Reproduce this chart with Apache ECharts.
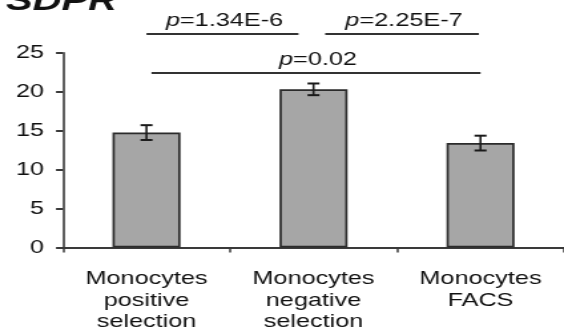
<!DOCTYPE html>
<html>
<head>
<meta charset="utf-8">
<script src="https://cdn.jsdelivr.net/npm/echarts@6/dist/echarts.min.js"></script>
<style>
html,body{margin:0;padding:0;overflow:hidden;background:#fff;width:564px;height:333px;}
#chart{width:424px;height:333px;transform:scaleX(1.330189);transform-origin:0 0;}
</style>
</head>
<body>
<div id="chart"></div>
<script>
// ---- data ----
const categories = ['Monocytes\npositive\nselection', 'Monocytes\nnegative\nselection', 'Monocytes\nFACS'];
const values = [14.75, 20.3, 13.4];
const errors = [0.95, 0.75, 0.95];
const yTicks = [0, 5, 10, 15, 20, 25];
// significance brackets: [from (category position), to (category position), height]
const sigFrom = [0.0, 1.07, 0.03];
const sigTo = [0.91, 1.99, 2.0];
const sigY = [27.4, 27.4, 22.4];
const sigText = ['1.34E-6', '2.25E-7', '0.02'];
const titleText = 'SDPR';

// ---- layout ----
const S = 564 / 424;           // horizontal stretch of the figure
const h = v => v / S;           // target px -> unscaled px
const FONT = "'Liberation Sans', Arial, sans-serif";
const TXT = '#111';
const AX = '#3a3a3a';

const chart = echarts.init(document.getElementById('chart'), null, {renderer: 'canvas'});

const errData = values.map((v, i) => [i, v, errors[i]]);
const sigData = sigFrom.map((f, i) => [f, sigTo[i], sigY[i], i]);

const option = {
  animation: false,
  backgroundColor: '#fff',
  title: {
    text: titleText, left: h(6), top: -13, padding: 0,
    textStyle: {fontFamily: FONT, fontSize: 30, fontWeight: 'bold', fontStyle: 'italic', color: '#111'}
  },
  grid: {left: h(63), right: 424 - h(573), top: 52.7, bottom: 81.3, containLabel: false},
  xAxis: [{
    type: 'category', data: categories, boundaryGap: true,
    axisLine: {show: true, onZero: false, lineStyle: {color: AX, width: 2}},
    axisTick: {show: true, length: 5, lineStyle: {color: AX, width: 1.5}},
    axisLabel: {fontFamily: FONT, fontSize: 19, color: TXT, lineHeight: 21.5, margin: 21, interval: 0},
    splitLine: {show: false}
  }, {
    type: 'value', min: -0.5, max: 2.5, show: false
  }],
  yAxis: {
    type: 'value', min: yTicks[0], max: yTicks[yTicks.length - 1], interval: 5,
    axisLine: {show: true, onZero: false, lineStyle: {color: AX, width: 1.6}},
    axisTick: {show: true, inside: false, length: h(7), lineStyle: {color: AX, width: 2}},
    axisLabel: {fontFamily: FONT, fontSize: 19, color: TXT, margin: h(19)},
    splitLine: {show: false}
  },
  series: [{
    type: 'bar', data: values, barWidth: h(68), xAxisIndex: 0,
    itemStyle: {color: '#a6a6a6', borderColor: '#2b2b2b', borderWidth: 1.7},
    z: 2
  }, {
    type: 'custom', xAxisIndex: 0, data: errData, z: 5,
    renderItem: function (params, api) {
      const x = api.value(0), m = api.value(1), e = api.value(2);
      const t = api.coord([x, m + e]);
      const b = api.coord([x, m - e]);
      const hw = h(6);
      const st = {stroke: '#1a1a1a', lineWidth: 2};
      return {type: 'group', children: [
        {type: 'line', shape: {x1: t[0], y1: t[1], x2: b[0], y2: b[1]}, style: {stroke: '#1a1a1a', lineWidth: 1.6}},
        {type: 'line', shape: {x1: t[0] - hw, y1: t[1], x2: t[0] + hw, y2: t[1]}, style: st},
        {type: 'line', shape: {x1: b[0] - hw, y1: b[1], x2: b[0] + hw, y2: b[1]}, style: st}
      ]};
    }
  }, {
    type: 'custom', xAxisIndex: 1, data: sigData, z: 5, clip: false,
    renderItem: function (params, api) {
      const a = api.coord([api.value(0), api.value(2)]);
      const b = api.coord([api.value(1), api.value(2)]);
      const idx = api.value(3);
      return {type: 'group', children: [
        {type: 'line', shape: {x1: a[0], y1: a[1], x2: b[0], y2: b[1]}, style: {stroke: '#333', lineWidth: 2}},
        {type: 'text', x: (a[0] + b[0]) / 2 + h(2), y: a[1] - 4,
          style: {
            text: '{i|p}=' + sigText[idx],
            fontFamily: FONT, fontSize: 19, fill: TXT,
            align: 'center', verticalAlign: 'bottom',
            rich: {i: {fontFamily: FONT, fontSize: 19, fontStyle: 'italic', fill: TXT}}
          }}
      ]};
    }
  }]
};
chart.setOption(option);
</script>
</body>
</html>
